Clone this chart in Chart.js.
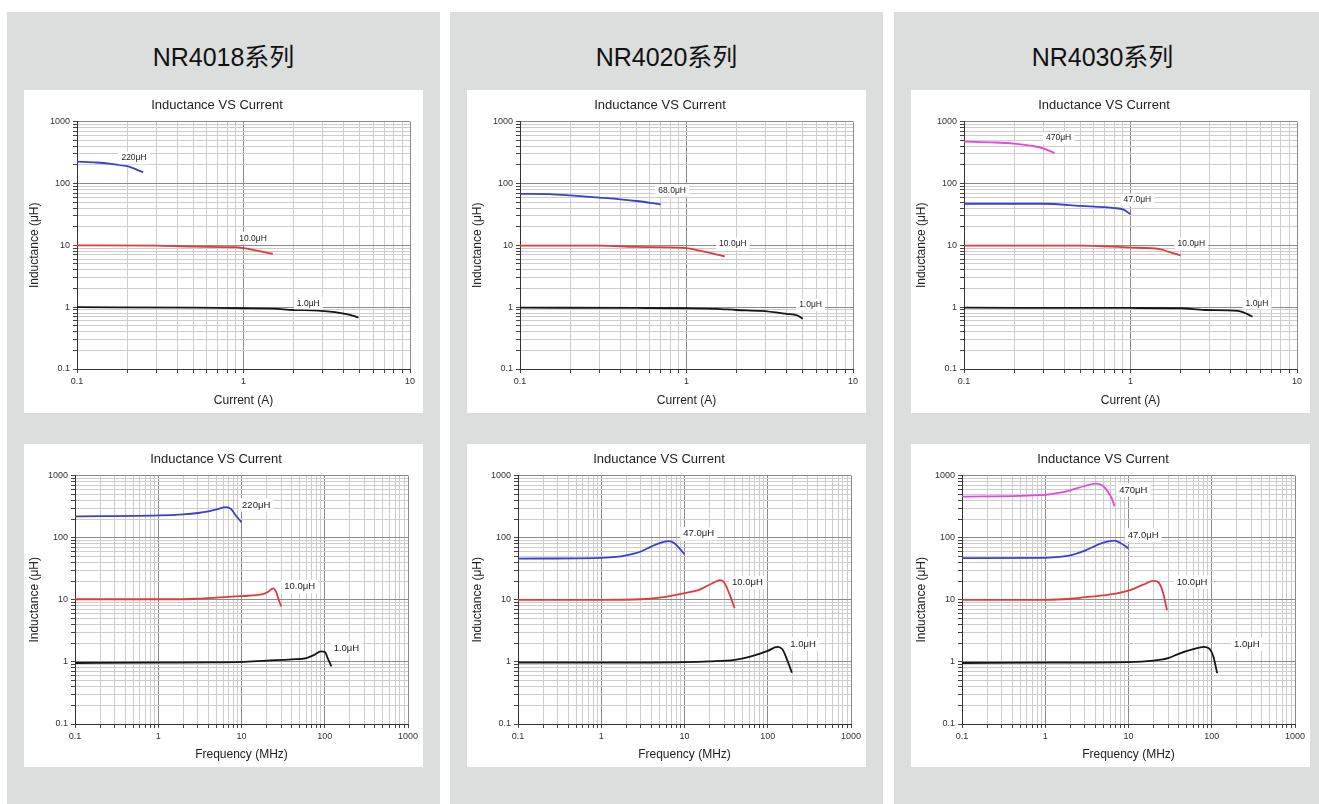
<!DOCTYPE html>
<html>
<head>
<meta charset="utf-8">
<title>NR series inductance curves</title>
<script src="https://cdn.jsdelivr.net/npm/chart.js@4.4.1/dist/chart.umd.min.js"></script>
<style>
  html, body { margin: 0; padding: 0; background: #fff; }
  body { width: 1319px; height: 804px; position: relative; overflow: hidden;
         font-family: "Liberation Sans", Arial, "Noto Sans CJK SC", sans-serif; }
  .panel { position: absolute; top: 12px; height: 792px; background: #dcdddd; }
  .ptitle { position: absolute; left: 0; right: 0; top: 30px; line-height: 30px;
            text-align: center; font-size: 25px; color: #111; }
  .box { position: absolute; left: 17px; width: 399px; height: 323px; background: #fff; }
  .box canvas { display: block; }
</style>
</head>
<body>
<div class="panel" style="left:7px;width:433px">
  <div class="ptitle" id="t0"></div>
  <div class="box" style="top:78px"><canvas id="c0a" width="399" height="323"></canvas></div>
  <div class="box" style="top:432px"><canvas id="c0b" width="399" height="323"></canvas></div>
</div>
<div class="panel" style="left:450px;width:433px">
  <div class="ptitle" id="t1"></div>
  <div class="box" style="top:78px"><canvas id="c1a" width="399" height="323"></canvas></div>
  <div class="box" style="top:432px"><canvas id="c1b" width="399" height="323"></canvas></div>
</div>
<div class="panel" style="left:894px;width:425px">
  <div class="ptitle" id="t2" style="right:8px"></div>
  <div class="box" style="top:78px"><canvas id="c2a" width="399" height="323"></canvas></div>
  <div class="box" style="top:432px"><canvas id="c2b" width="399" height="323"></canvas></div>
</div>

<script>
/* ---------- panel names / axis ticks ---------- */
const panelNames = ['NR4018系列', 'NR4020系列', 'NR4030系列'];
const chartTitle = 'Inductance VS Current';
const currentDecades = [0.1, 1, 10];
const freqDecades = [0.1, 1, 10, 100, 1000];
const inductanceDecades = [0.1, 1, 10, 100, 1000];

/* ---------- NR4018: inductance (uH) vs current (A) ---------- */
const nr4018Cur220 = [[0.1, 225], [0.13, 218], [0.16, 207], [0.2, 190], [0.25, 152]];
const nr4018Cur10 = [[0.1, 10], [0.3, 9.9], [0.5, 9.5], [0.9, 9.3], [1.0, 9.0], [1.5, 7.3]];
const nr4018Cur1 = [[0.1, 1], [0.5, 0.98], [1, 0.96], [1.5, 0.95], [2, 0.9], [2.8, 0.88], [4.3, 0.76], [4.9, 0.68]];
const nr4018CurTags = [['220μH', 0.22, 257], ['10.0μH', 1.14, 13], ['1.0μH', 2.45, 1.16]];

/* ---------- NR4018: inductance (uH) vs frequency (MHz) ---------- */
const nr4018Frq220 = [[0.1, 220], [1, 228], [2, 238], [3, 250], [4, 265], [5, 285], [6.5, 310], [7.5, 290], [8.5, 230], [10, 177]];
const nr4018Frq10 = [[0.1, 10.2], [1, 10.2], [3, 10.4], [5, 10.8], [10, 11.5], [18, 12.3], [21, 13.5], [24, 15.3], [26, 13.5], [28, 10], [30, 7.8]];
const nr4018Frq1 = [[0.1, 0.96], [1, 0.97], [5, 0.98], [10, 1.0], [20, 1.05], [40, 1.1], [60, 1.15], [75, 1.3], [90, 1.48], [100, 1.45], [110, 1.1], [120, 0.85]];
const nr4018FrqTags = [['220μH', 15, 337], ['10.0μH', 50, 16.4], ['1.0μH', 182, 1.67]];

/* ---------- NR4020: inductance vs current ---------- */
const nr4020Cur68 = [[0.1, 68], [0.15, 67], [0.2, 64], [0.3, 59], [0.5, 52], [0.7, 46]];
const nr4020Cur10 = [[0.1, 9.9], [0.3, 9.9], [0.5, 9.4], [0.9, 9.2], [1, 9.0], [1.7, 6.6]];
const nr4020Cur1 = [[0.1, 0.98], [0.5, 0.97], [1, 0.96], [1.5, 0.94], [2, 0.9], [2.8, 0.87], [4, 0.78], [4.6, 0.74], [5, 0.65]];
const nr4020CurTags = [['68.0μH', 0.82, 77], ['10.0μH', 1.9, 10.5], ['1.0μH', 5.56, 1.1]];

/* ---------- NR4020: inductance vs frequency ---------- */
const nr4020Frq47 = [[0.1, 46], [1, 47.5], [1.5, 49], [2, 52], [3, 60], [4, 72], [5, 82], [6.5, 88], [7.5, 82], [10, 54]];
const nr4020Frq10 = [[0.1, 10], [1, 10], [3, 10.2], [5, 10.8], [10, 12.8], [15, 14.5], [20, 17.5], [27, 20.8], [30, 19], [35, 12], [40, 7.3]];
const nr4020Frq1 = [[0.1, 0.97], [1, 0.97], [10, 0.99], [20, 1.02], [40, 1.08], [60, 1.2], [100, 1.5], [130, 1.75], [150, 1.6], [170, 1.1], [195, 0.67]];
const nr4020FrqTags = [['47.0μH', 14.8, 116], ['10.0μH', 57, 18.8], ['1.0μH', 265, 1.95]];

/* ---------- NR4030: inductance vs current ---------- */
const nr4030Cur470 = [[0.1, 475], [0.15, 460], [0.2, 440], [0.25, 410], [0.3, 370], [0.35, 310]];
const nr4030Cur47 = [[0.1, 47], [0.3, 47], [0.5, 43.5], [0.8, 40], [0.9, 38], [1.0, 32]];
const nr4030Cur10 = [[0.1, 9.9], [0.5, 9.9], [1, 9.2], [1.5, 8.7], [1.7, 7.8], [2, 6.9]];
const nr4030Cur1 = [[0.1, 0.98], [1, 0.97], [2, 0.96], [2.8, 0.9], [4.4, 0.87], [5, 0.78], [5.4, 0.7]];
const nr4030CurTags = [['470μH', 0.37, 540], ['47.0μH', 1.1, 54], ['10.0μH', 2.32, 10.6], ['1.0μH', 5.75, 1.16]];

/* ---------- NR4030: inductance vs frequency ---------- */
const nr4030Frq470 = [[0.1, 460], [1, 490], [1.5, 530], [2, 580], [3, 680], [4, 740], [4.8, 700], [5.5, 580], [6.3, 430], [6.8, 320]];
const nr4030Frq47 = [[0.1, 47], [1, 47.5], [1.5, 49], [2, 52], [3, 62], [4, 74], [5, 83], [6.7, 90], [8, 82], [10, 67]];
const nr4030Frq10 = [[0.1, 10], [1, 10], [2, 10.4], [3, 11], [5, 11.8], [7, 12.6], [10, 14], [15, 17.5], [20, 20.2], [23, 19], [26, 13], [29, 6.8]];
const nr4030Frq1 = [[0.1, 0.96], [1, 0.97], [10, 0.99], [20, 1.05], [30, 1.15], [40, 1.35], [60, 1.6], [80, 1.75], [95, 1.6], [105, 1.2], [116, 0.66]];
const nr4030FrqTags = [['470μH', 11.4, 588], ['47.0μH', 15, 111], ['10.0μH', 58, 19.2], ['1.0μH', 264, 1.94]];

/* Line colours */
const colors = {
  magenta: '#e247e0',
  blue: '#3b3fcf',
  red: '#e23a3c',
  black: '#151515'
};

Chart.defaults.font.family = '"Liberation Sans", Arial, sans-serif';
Chart.defaults.color = '#333';

/* decade list -> 1..9 per decade grid positions */
function gridValues(decades) {
  const out = [];
  for (let i = 0; i < decades.length - 1; i++) {
    for (let k = 1; k <= 9; k++) out.push(Number((decades[i] * k).toPrecision(6)));
  }
  out.push(decades[decades.length - 1]);
  return out;
}

/* draws the white value tags next to the curves */
const tagPlugin = {
  id: 'tags',
  afterDatasetsDraw(chart, args, opts) {
    const { ctx, scales: { x, y } } = chart;
    ctx.save();
    ctx.font = opts.size + 'px "Liberation Sans", Arial, sans-serif';
    ctx.textAlign = 'center';
    ctx.textBaseline = 'middle';
    (opts.items || []).forEach(([text, vx, vy]) => {
      const px = x.getPixelForValue(vx);
      const py = y.getPixelForValue(vy);
      const w = ctx.measureText(text).width + 6;
      const h = opts.size + 4;
      ctx.fillStyle = '#fff';
      ctx.fillRect(px - w / 2, py - h / 2, w, h);
      ctx.fillStyle = '#222';
      ctx.fillText(text, px, py);
    });
    ctx.restore();
  }
};

function logAxis(decades, title, fit, isX) {
  const majors = decades;
  const isMajor = v => majors.some(m => Math.abs(m - v) < m * 1e-6);
  return {
    type: 'logarithmic',
    min: decades[0],
    max: decades[decades.length - 1],
    afterBuildTicks: s => { s.ticks = gridValues(decades).map(v => ({ value: v })); },
    afterFit: s => { if (isX) s.height = fit; else s.width = fit; },
    title: {
      display: true, text: title, color: '#222',
      font: { size: 12 },
      padding: isX ? { top: 2, bottom: 5 } : { top: 3, bottom: 3 }
    },
    ticks: {
      autoSkip: false, maxRotation: 0, color: '#333', padding: 3,
      font: { size: 9 },
      callback: v => (isMajor(v) ? String(v) : '')
    },
    grid: {
      color: c => (c.tick && isMajor(c.tick.value) ? '#8a8a8a' : '#cdcdcd'),
      lineWidth: 1,
      drawTicks: true,
      tickLength: 4,
      tickColor: '#444'
    },
    border: { display: true, color: '#333', width: 1 }
  };
}

function makeChart(id, series, tags, xDecades, xTitle, dims) {
  new Chart(document.getElementById(id), {
    type: 'line',
    data: {
      datasets: series.map(([pts, color]) => ({
        data: pts.map(([x, y]) => ({ x, y })),
        borderColor: color,
        borderWidth: 1.8,
        pointRadius: 0,
        fill: false,
        cubicInterpolationMode: 'monotone'
      }))
    },
    plugins: [tagPlugin],
    options: {
      responsive: false,
      animation: false,
      layout: { padding: { left: 0, right: dims.padR, top: 0, bottom: 0 } },
      plugins: {
        legend: { display: false },
        tooltip: { enabled: false },
        title: {
          display: true, text: chartTitle, color: '#222',
          font: { size: 13, weight: 'normal' },
          padding: { top: 8, bottom: 8 }
        },
        tags: { items: tags, size: dims.tagSize }
      },
      scales: {
        x: logAxis(xDecades, xTitle, dims.xH, true),
        y: logAxis(inductanceDecades, 'Inductance (μH)', dims.yW, false)
      }
    }
  });
}

panelNames.forEach((n, i) => { document.getElementById('t' + i).textContent = n; });

const topDims = { yW: 53, padR: 13, xH: 44, tagSize: 8.5 };
const botDims = { yW: 51, padR: 15, xH: 43, tagSize: 9.5 };

makeChart('c0a', [[nr4018Cur220, colors.blue], [nr4018Cur10, colors.red], [nr4018Cur1, colors.black]],
  nr4018CurTags, currentDecades, 'Current (A)', topDims);
makeChart('c0b', [[nr4018Frq220, colors.blue], [nr4018Frq10, colors.red], [nr4018Frq1, colors.black]],
  nr4018FrqTags, freqDecades, 'Frequency (MHz)', botDims);
makeChart('c1a', [[nr4020Cur68, colors.blue], [nr4020Cur10, colors.red], [nr4020Cur1, colors.black]],
  nr4020CurTags, currentDecades, 'Current (A)', topDims);
makeChart('c1b', [[nr4020Frq47, colors.blue], [nr4020Frq10, colors.red], [nr4020Frq1, colors.black]],
  nr4020FrqTags, freqDecades, 'Frequency (MHz)', botDims);
makeChart('c2a', [[nr4030Cur470, colors.magenta], [nr4030Cur47, colors.blue], [nr4030Cur10, colors.red], [nr4030Cur1, colors.black]],
  nr4030CurTags, currentDecades, 'Current (A)', topDims);
makeChart('c2b', [[nr4030Frq470, colors.magenta], [nr4030Frq47, colors.blue], [nr4030Frq10, colors.red], [nr4030Frq1, colors.black]],
  nr4030FrqTags, freqDecades, 'Frequency (MHz)', botDims);
</script>
</body>
</html>
